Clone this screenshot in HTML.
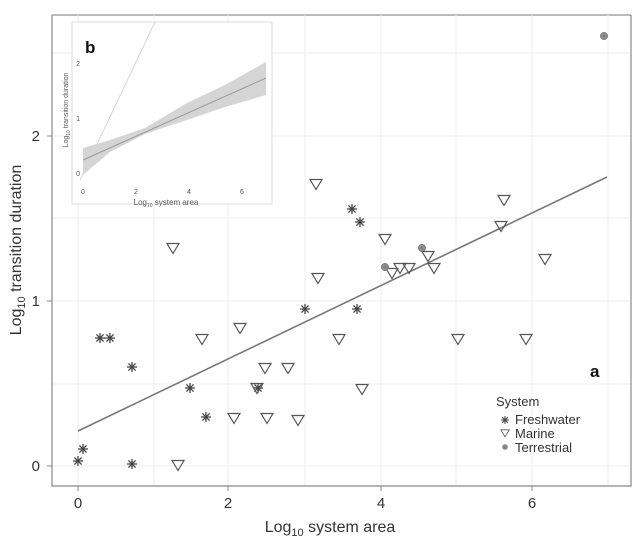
<!DOCTYPE html>
<html><head><style>
body{margin:0;background:#fff;}
text{font-family:"Liberation Sans",sans-serif;}
</style></head><body>
<svg width="639" height="545" viewBox="0 0 639 545" xmlns="http://www.w3.org/2000/svg">
<defs>
<g id="st" stroke="#444" stroke-width="1.3"><line x1="-5" y1="0" x2="5" y2="0"/><line x1="0" y1="-5" x2="0" y2="5"/><line x1="-3.6" y1="-3.6" x2="3.6" y2="3.6"/><line x1="-3.6" y1="3.6" x2="3.6" y2="-3.6"/></g>
<polygon id="tr" points="-6,-4.5 6,-4.5 0,5.5" fill="none" stroke="#555" stroke-width="1.2"/>
<g id="te"><circle r="3.5" fill="#999" stroke="#666" stroke-width="0.8"/><line x1="-3.5" y1="0" x2="3.5" y2="0" stroke="#666" stroke-width="0.6"/><line x1="0" y1="-3.5" x2="0" y2="3.5" stroke="#666" stroke-width="0.6"/></g>
</defs>
<rect width="639" height="545" fill="#fff"/>
<line x1="52" y1="15" x2="631" y2="15" stroke="#777" stroke-width="1"/>
<g stroke="#eee" stroke-width="1">
<line x1="78" y1="15" x2="78" y2="486"/><line x1="154" y1="15" x2="154" y2="486"/><line x1="228" y1="15" x2="228" y2="486"/><line x1="305" y1="15" x2="305" y2="486"/><line x1="381" y1="15" x2="381" y2="486"/><line x1="456" y1="15" x2="456" y2="486"/><line x1="532" y1="15" x2="532" y2="486"/><line x1="608" y1="15" x2="608" y2="486"/>
<line x1="52" y1="466" x2="631" y2="466"/><line x1="52" y1="384" x2="631" y2="384"/><line x1="52" y1="301" x2="631" y2="301"/><line x1="52" y1="218" x2="631" y2="218"/><line x1="52" y1="136" x2="631" y2="136"/><line x1="52" y1="53" x2="631" y2="53"/>
</g>
<polyline points="52,15 52,486 631,486 631,15" fill="none" stroke="#888" stroke-width="1.2"/>
<g stroke="#888"><line x1="47" y1="466" x2="52" y2="466"/><line x1="47" y1="301" x2="52" y2="301"/><line x1="47" y1="136" x2="52" y2="136"/>
<line x1="78" y1="486" x2="78" y2="491"/><line x1="228" y1="486" x2="228" y2="491"/><line x1="381" y1="486" x2="381" y2="491"/><line x1="532" y1="486" x2="532" y2="491"/></g>
<g font-size="15" fill="#333"><text x="40" y="471" text-anchor="end">0</text><text x="40" y="306" text-anchor="end">1</text><text x="40" y="141" text-anchor="end">2</text>
<text x="78" y="508" text-anchor="middle">0</text><text x="228" y="508" text-anchor="middle">2</text><text x="381" y="508" text-anchor="middle">4</text><text x="532" y="508" text-anchor="middle">6</text></g>
<text x="330" y="532" font-size="16" fill="#333" text-anchor="middle">Log<tspan font-size="11" dy="4">10</tspan><tspan dy="-4"> system area</tspan></text>
<text transform="translate(21,250) rotate(-90)" font-size="16" fill="#333" text-anchor="middle">Log<tspan font-size="11" dy="4">10</tspan><tspan dy="-4"> transition duration</tspan></text>
<line x1="78" y1="431" x2="607" y2="177" stroke="#777" stroke-width="1.6"/>
<g>
<use href="#st" x="78" y="461"/><use href="#st" x="83" y="449"/><use href="#st" x="100" y="338"/><use href="#st" x="110" y="338"/><use href="#st" x="132" y="367"/><use href="#st" x="132" y="464"/><use href="#st" x="190" y="388"/><use href="#st" x="206" y="417"/><use href="#st" x="258" y="388"/><use href="#st" x="305" y="309"/><use href="#st" x="352" y="209"/><use href="#st" x="357" y="309"/><use href="#st" x="360" y="222"/>
<use href="#tr" x="173" y="248"/><use href="#tr" x="178" y="465"/><use href="#tr" x="202" y="339"/><use href="#tr" x="240" y="328"/><use href="#tr" x="234" y="418"/><use href="#tr" x="265" y="368"/><use href="#tr" x="267" y="418"/><use href="#tr" x="288" y="368"/><use href="#tr" x="298" y="420"/><use href="#tr" x="316" y="184"/><use href="#tr" x="318" y="278"/><use href="#tr" x="339" y="339"/><use href="#tr" x="362" y="389"/><use href="#tr" x="385" y="239"/><use href="#tr" x="392" y="273"/><use href="#tr" x="400" y="268"/><use href="#tr" x="409" y="268"/><use href="#tr" x="428" y="256"/><use href="#tr" x="434" y="268"/><use href="#tr" x="458" y="339"/><use href="#tr" x="504" y="200"/><use href="#tr" x="501" y="226"/><use href="#tr" x="526" y="339"/><use href="#tr" x="545" y="259"/><use href="#tr" x="257" y="388"/>
<use href="#te" x="385" y="267"/><use href="#te" x="422" y="248"/><use href="#te" x="604" y="36"/>
</g>
<text x="590" y="377" font-size="17" font-weight="bold" fill="#111">a</text>
<text x="496" y="406" font-size="13" fill="#333">System</text>
<g transform="translate(505,420) scale(0.8)"><use href="#st"/></g>
<g transform="translate(505,433) scale(0.7)"><use href="#tr"/></g>
<circle cx="505" cy="447" r="2.8" fill="#888"/>
<g font-size="13" fill="#333"><text x="515" y="424">Freshwater</text><text x="515" y="438">Marine</text><text x="515" y="452">Terrestrial</text></g>
<!-- inset -->
<rect x="72" y="22" width="200" height="182" fill="#fff" stroke="#ddd"/>
<line x1="80" y1="180" x2="155" y2="22" stroke="#ccc" stroke-width="0.8"/>
<polygon points="83,148 110,140 145,128 187,103 225,85 266,62 266,95 225,107 187,120 145,134 110,152 83,175" fill="#d5d5d5"/>
<line x1="83" y1="160" x2="266" y2="78" stroke="#999" stroke-width="1"/>
<g font-size="7" fill="#555"><text x="80" y="176" text-anchor="end">0</text><text x="80" y="121" text-anchor="end">1</text><text x="80" y="66" text-anchor="end">2</text>
<text x="83" y="194" text-anchor="middle">0</text><text x="136" y="194" text-anchor="middle">2</text><text x="189" y="194" text-anchor="middle">4</text><text x="242" y="194" text-anchor="middle">6</text></g>
<text x="166" y="205" font-size="8" fill="#555" text-anchor="middle">Log<tspan font-size="5" dy="2">10</tspan><tspan dy="-2"> system area</tspan></text>
<text transform="translate(68,110) rotate(-90)" font-size="7" fill="#555" text-anchor="middle">Log<tspan font-size="5" dy="2">10</tspan><tspan dy="-2"> transition duration</tspan></text>
<text x="85" y="53" font-size="17" font-weight="bold" fill="#111">b</text>
</svg>
</body></html>
